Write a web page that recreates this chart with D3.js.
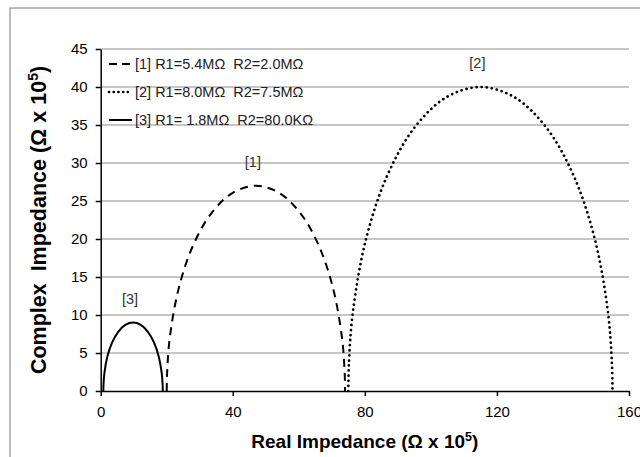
<!DOCTYPE html>
<html><head><meta charset="utf-8">
<script src="https://cdn.jsdelivr.net/npm/d3@7"></script>
<style>
html,body{margin:0;padding:0;background:#fff;}
text{font-family:"Liberation Sans",Arial,sans-serif;}
</style></head>
<body><svg id="c" width="640" height="457"></svg>
<script>
// ---- data (units: Ω x 10^5) ----
const seriesLabels = ["[1]", "[2]", "[3]"];
const legendTexts = ["[1] R1=5.4MΩ  R2=2.0MΩ", "[2] R1=8.0MΩ  R2=7.5MΩ", "[3] R1= 1.8MΩ  R2=80.0KΩ"];
const real1 = [20, 20.11, 20.92, 23.62, 27.91, 33.5, 40.01, 47, 53.99, 60.5, 66.09, 70.38, 73.08, 73.89, 74];
const imag1 = [0, 2.35, 6.99, 13.5, 19.09, 23.38, 26.08, 27, 26.08, 23.38, 19.09, 13.5, 6.99, 2.35, 0];
const real2 = [75, 75.16, 76.36, 80.36, 86.72, 95, 104.64, 115, 125.36, 135, 143.28, 149.64, 153.64, 154.84, 155];
const imag2 = [0, 3.49, 10.35, 20, 28.28, 34.64, 38.64, 40, 38.64, 34.64, 28.28, 20, 10.35, 3.49, 0];
const real3 = [0.8, 0.84, 1.11, 2.0, 3.44, 5.3, 7.47, 9.8, 12.13, 14.3, 16.16, 17.59, 18.49, 18.76, 18.8];
const imag3 = [0, 0.78, 2.33, 4.5, 6.36, 7.79, 8.69, 9, 8.69, 7.79, 6.36, 4.5, 2.33, 0.78, 0];
const xTicks = [0, 40, 80, 120, 160];
const yTicks = [0, 5, 10, 15, 20, 25, 30, 35, 40, 45];

// ---- styles ----
const styles = [
  {dash: "8,6", width: 2, cap: "butt", legendDash: "8,5"},
  {dash: "0.1,5", width: 2.7, cap: "round", legendDash: "0.1,4.6"},
  {dash: null, width: 2, cap: "butt", legendDash: null}
];
const series = [
  {x: real1, y: imag1}, {x: real2, y: imag2}, {x: real3, y: imag3}
].map((s, i) => ({pts: s.x.map((v, j) => [v, s.y[j]]), label: seriesLabels[i], legend: legendTexts[i], st: styles[i]}));

const svg = d3.select("#c");
svg.append("rect").attr("width", 640).attr("height", 457).attr("fill", "#fff");
svg.append("rect").attr("x", 10).attr("y", 8).attr("width", 700).attr("height", 600)
  .attr("fill", "none").attr("stroke", "#a6a6a6").attr("stroke-width", 1.5);

const x = d3.scaleLinear().domain([0, 160]).range([100.7, 629]);
const y = d3.scaleLinear().domain([0, 45]).range([391, 49]);

// gridlines
svg.append("g").selectAll("line").data(yTicks.filter(d => d > 0)).join("line")
  .attr("x1", x(0)).attr("x2", x(160)).attr("y1", d => y(d)).attr("y2", d => y(d))
  .attr("stroke", "#b3b3b3").attr("stroke-width", 1.3);

// axes
const yAxis = svg.append("g").attr("transform", `translate(${x(0)},0)`)
  .call(d3.axisLeft(y).tickValues(yTicks).tickSize(5).tickSizeOuter(0).tickPadding(8));
const xAxis = svg.append("g").attr("transform", `translate(0,${y(0)})`)
  .call(d3.axisBottom(x).tickValues(xTicks).tickSize(5).tickSizeOuter(0).tickPadding(10));
[xAxis, yAxis].forEach(a => {
  a.selectAll("path,line").attr("stroke", "#000").attr("stroke-width", 1.5);
  a.selectAll("text").attr("font-size", 15).attr("fill", "#000").attr("font-family", "Liberation Sans, Arial, sans-serif");
});

// curves
const line = d3.line().x(d => x(d[0])).y(d => y(d[1])).curve(d3.curveCatmullRom.alpha(0.5));
series.forEach(s => {
  svg.append("path").attr("d", line(s.pts)).attr("fill", "none")
    .attr("stroke", "#000").attr("stroke-width", s.st.width)
    .attr("stroke-linecap", s.st.cap)
    .attr("stroke-dasharray", s.st.dash);
  const peak = s.pts.reduce((a, b) => b[1] > a[1] ? b : a);
  svg.append("text").attr("x", x(peak[0]) - 3).attr("y", y(peak[1]) - 24)
    .attr("text-anchor", "middle").attr("dominant-baseline", "central")
    .attr("font-size", 14.5).attr("fill", "#333").text(s.label);
});

// legend
series.forEach((s, i) => {
  const ly = 64 + i * 28;
  svg.append("line").attr("x1", 109).attr("x2", 132).attr("y1", ly).attr("y2", ly)
    .attr("stroke", "#000").attr("stroke-width", s.st.width)
    .attr("stroke-linecap", s.st.cap).attr("stroke-dasharray", s.st.legendDash);
  svg.append("text").attr("x", 135).attr("y", ly).attr("dominant-baseline", "central")
    .attr("font-size", 14.5).attr("fill", "#222").style("white-space", "pre").text(s.legend);
});

// axis titles
const xt = svg.append("text").attr("x", (x(0) + x(160)) / 2).attr("y", 448)
  .attr("text-anchor", "middle").attr("font-size", 19).attr("font-weight", "bold").attr("fill", "#000");
xt.append("tspan").text("Real Impedance (Ω x 10");
xt.append("tspan").attr("font-size", 12.5).attr("dy", -7).text("5");
xt.append("tspan").attr("dy", 7).text(")");

const yt = svg.append("text").attr("transform", `translate(46,${(y(0) + y(45)) / 2}) rotate(-90)`)
  .attr("text-anchor", "middle").attr("font-size", 21.5).attr("font-weight", "bold").attr("fill", "#000")
  .style("white-space", "pre");
yt.append("tspan").text("Complex  Impedance (Ω x 10");
yt.append("tspan").attr("font-size", 14).attr("dy", -8).text("5");
yt.append("tspan").attr("dy", 8).text(")");
</script></body></html>
